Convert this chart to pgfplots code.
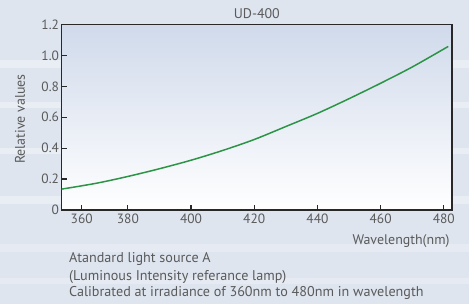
\documentclass[border=0pt]{standalone}
\usepackage{pgfplots}
\pgfplotsset{compat=1.18}
\usepackage{fontspec}
\setmainfont{PT Sans}
\definecolor{bgc}{RGB}{222,229,239}
\definecolor{stripe}{RGB}{238,242,248}
\definecolor{plottop}{RGB}{208,218,235}
\definecolor{txt}{RGB}{90,90,90}
\definecolor{axc}{RGB}{40,40,40}
\definecolor{curve}{RGB}{44,148,70}
\begin{document}
\begin{tikzpicture}[x=1bp,y=1bp]
\useasboundingbox (0,0) rectangle (469,304);
\fill[bgc] (0,0) rectangle (469,304);
\fill[stripe, opacity=0.7] (0,236) rectangle (469,244);
\fill[stripe, opacity=0.7] (0,196) rectangle (469,202);
\fill[stripe, opacity=0.7] (0,150) rectangle (469,156);
\fill[stripe, opacity=0.7] (0,100) rectangle (469,108);
\fill[stripe, opacity=0.5] (0,52) rectangle (469,60);
\fill[stripe, opacity=0.5] (0,20) rectangle (469,26);
\begin{axis}[
  at={(61.5bp,94bp)}, anchor=south west,
  scale only axis, width=390.5bp, height=185.5bp,
  xmin=359, xmax=482.6, ymin=0, ymax=1.2,
  axis background/.style={shade, top color=plottop, bottom color=white},
  axis line style={axc, line width=1.3pt},
  xtick={365.4,380,400,420,440,460,480},
  xticklabels={360,380,400,420,440,460,480},
  ytick={0,0.2,0.4,0.6,0.8,1.0,1.2},
  yticklabels={0,0.2,0.4,0.6,0.8,1.0,1.2},
  xtick pos=lower, ytick pos=left,
  tick align=inside, major tick length=5.5bp,
  tick style={axc, line width=1.2pt},
  tick label style={font=\fontsize{13.5}{15}\selectfont, text=txt},
  xticklabel style={yshift=-0.5bp},
  yticklabel style={xshift=1bp},
]
\addplot[curve, line width=1.5pt, smooth] coordinates {
(359,0.135) (370,0.173) (380,0.217) (390,0.267) (400,0.322) (410,0.385)
(420,0.456) (430,0.540) (440,0.625) (450,0.720) (460,0.820) (470,0.925) (481.4,1.058)
};
\end{axis}
\node[text=txt, font=\fontsize{14}{16}\selectfont] at (256.8,290) {UD-400};
\node[text=txt, font=\fontsize{14}{16}\selectfont, rotate=90] at (20,185) {Relative values};
\node[text=txt, font=\fontsize{14}{16}\selectfont, anchor=east] at (453,63.3) {Wavelength(nm)};
\node[text=txt, font=\fontsize{14.2}{16}\selectfont, anchor=west, inner sep=0] at (69,45) {Atandard light source A};
\node[text=txt, font=\fontsize{14.2}{16}\selectfont, anchor=west, inner sep=0] at (69,27.3) {(Luminous Intensity referance lamp)};
\node[text=txt, font=\fontsize{14.2}{16}\selectfont, anchor=west, inner sep=0] at (69,10.7) {Calibrated at irradiance of 360nm to 480nm in wavelength};
\end{tikzpicture}
\end{document}
